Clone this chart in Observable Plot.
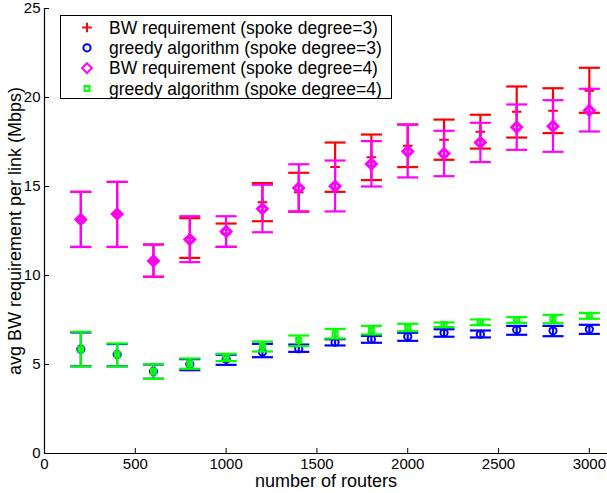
<!DOCTYPE html>
<html>
<head>
<meta charset="utf-8">
<script src="https://cdn.jsdelivr.net/npm/d3@7"></script>
<script src="https://cdn.jsdelivr.net/npm/@observablehq/plot@0.6"></script>
<style>
  html, body { margin: 0; padding: 0; background: #fff; }
  #wrap { position: relative; width: 607px; height: 493px; font-family: "Liberation Sans", Arial, sans-serif; }
  #legend { position: absolute; left: 60px; top: 15px; width: 332px; height: 84px; border: 1px solid #000; background: #fff; box-sizing: border-box; }
</style>
</head>
<body>
<div id="wrap"></div>
<script>
const routers = [200, 400, 600, 800, 1000, 1200, 1400, 1600, 1800, 2000, 2200, 2400, 2600, 2800, 3000];

const bw3Mean = [13.15, 13.45, 10.82, 12.1, 12.34, 14.12, 14.68, 16.09, 16.65, 17.29, 17.62, 18.07, 19.2, 19.25, 20.38];
const bw3Hi   = [14.7, 15.26, 11.74, 13.22, 12.92, 15.19, 15.77, 17.47, 17.92, 18.48, 18.76, 19.03, 20.62, 20.52, 21.67];
const bw3Lo   = [11.6, 11.6, 9.93, 10.99, 11.61, 13.05, 13.6, 14.70, 15.36, 16.09, 16.50, 17.13, 17.75, 18.0, 19.14];

const bw4Mean = [13.15, 13.45, 10.82, 12.02, 12.47, 13.75, 14.91, 15.02, 16.27, 16.97, 16.85, 17.47, 18.33, 18.39, 19.27];
const bw4Hi   = [14.7, 15.26, 11.74, 13.33, 13.33, 15.1, 16.25, 16.46, 17.55, 18.48, 18.13, 18.58, 19.61, 19.85, 20.49];
const bw4Lo   = [11.61, 11.61, 9.93, 10.75, 11.61, 12.43, 13.58, 13.60, 15.0, 15.51, 15.58, 16.37, 17.06, 16.95, 18.09];

const gr3Mean = [5.86, 5.56, 4.61, 5.02, 5.30, 5.70, 5.88, 6.25, 6.42, 6.57, 6.78, 6.70, 6.95, 6.89, 6.98];
const gr3Hi   = [6.8, 6.15, 5.0, 5.30, 5.55, 6.16, 6.12, 6.42, 6.61, 6.78, 6.98, 6.91, 7.17, 7.17, 7.23];
const gr3Lo   = [4.9, 4.9, 4.2, 4.68, 4.98, 5.41, 5.71, 6.07, 6.22, 6.33, 6.56, 6.52, 6.67, 6.59, 6.72];

const gr4Mean = [5.86, 5.56, 4.61, 5.04, 5.41, 6.03, 6.35, 6.72, 6.91, 7.08, 7.23, 7.38, 7.51, 7.55, 7.74];
const gr4Hi   = [6.84, 6.18, 5.02, 5.34, 5.60, 6.29, 6.63, 7.0, 7.17, 7.29, 7.36, 7.53, 7.66, 7.79, 7.90];
const gr4Lo   = [4.89, 4.89, 4.19, 4.76, 5.19, 5.73, 6.03, 6.46, 6.69, 6.87, 7.10, 7.21, 7.34, 7.32, 7.57];

const seriesNames = [
  "BW requirement (spoke degree=3)",
  "greedy algorithm (spoke degree=3)",
  "BW requirement (spoke degree=4)",
  "greedy algorithm (spoke degree=4)"
];
const seriesColors = ["#ff0000", "#0000ff", "#ff00ff", "#00ff00"];
const seriesSymbols = ["plus", "circle", "diamond2", "square2"];
const seriesR = [3.2, 3.6, 4.4, 3.2];
const seriesSW = [2, 2, 3, 2];

const xTicks = [0, 500, 1000, 1500, 2000, 2500, 3000];
const yTicks = [0, 5, 10, 15, 20, 25];

const allSeries = [
  [bw3Mean, bw3Lo, bw3Hi],
  [gr3Mean, gr3Lo, gr3Hi],
  [bw4Mean, bw4Lo, bw4Hi],
  [gr4Mean, gr4Lo, gr4Hi]
];
const capHalf = 58;

const marks = [];
allSeries.forEach(([m, lo, hi], s) => {
  const rows = routers.map((x, i) => ({x, mean: m[i], lo: lo[i], hi: hi[i]}));
  const c = seriesColors[s];
  marks.push(Plot.ruleX(rows, {x: "x", y1: "lo", y2: "hi", stroke: c, strokeWidth: 2.2}));
  marks.push(Plot.link(rows, {x1: d => d.x - capHalf, x2: d => d.x + capHalf, y1: "hi", y2: "hi", stroke: c, strokeWidth: 2.2}));
  marks.push(Plot.link(rows, {x1: d => d.x - capHalf, x2: d => d.x + capHalf, y1: "lo", y2: "lo", stroke: c, strokeWidth: 2.2}));
  marks.push(Plot.dot(rows, {x: "x", y: "mean", symbol: seriesSymbols[s], r: seriesR[s], stroke: c, strokeWidth: seriesSW[s]}));
});

const chart = Plot.plot({
  width: 607,
  height: 493,
  marginLeft: 44,
  marginRight: 0,
  marginTop: 8,
  marginBottom: 40,
  style: {fontFamily: "'Liberation Sans', Arial, sans-serif", fontSize: "18px", background: "#fff", color: "#000"},
  x: {domain: [0, 3100]},
  y: {domain: [0, 25]},
  marks: [
    ...marks,
    Plot.ruleX([0], {stroke: "#000", strokeWidth: 1.2}),
    Plot.ruleY([0], {stroke: "#000", strokeWidth: 1.2}),
    Plot.axisX(xTicks, {tickSize: -5, tickFormat: () => "", label: null, stroke: "#000"}),
    Plot.axisY(yTicks, {tickSize: -5, tickFormat: () => "", label: null, stroke: "#000"}),
    Plot.axisX(xTicks, {tickSize: 0, tickPadding: 5, fontSize: 15, tickFormat: d3.format("d"), label: null, fill: "#000"}),
    Plot.axisY(yTicks, {tickSize: 0, tickPadding: 4, fontSize: 15, tickFormat: d3.format("d"), label: null, fill: "#000"}),
    Plot.axisX([], {label: "number of routers", labelAnchor: "center", labelArrow: "none", labelOffset: 33, fontSize: 18, fill: "#000", tickSize: 0}),
    Plot.axisY([], {label: "avg BW requirement per link (Mbps)", labelAnchor: "center", labelArrow: "none", labelOffset: 36, fontSize: 18, fill: "#000", tickSize: 0})
  ]
});

const wrap = document.getElementById("wrap");
wrap.appendChild(chart);

// legend
const legend = document.createElement("div");
legend.id = "legend";
const ns = "http://www.w3.org/2000/svg";
const lsvg = document.createElementNS(ns, "svg");
lsvg.setAttribute("width", 330);
lsvg.setAttribute("height", 82);
lsvg.style.position = "absolute";
lsvg.style.left = "0px";
lsvg.style.top = "0px";
const symMap = {plus: d3.symbolPlus, circle: d3.symbolCircle, diamond2: d3.symbolDiamond2, square2: d3.symbolSquare2};
seriesNames.forEach((name, i) => {
  const cy = 11.5 + i * 20.3;
  const p = document.createElementNS(ns, "path");
  const rr = seriesR[i];
  p.setAttribute("d", d3.symbol(symMap[seriesSymbols[i]], Math.PI * rr * rr)());
  p.setAttribute("transform", `translate(26,${cy})`);
  p.setAttribute("fill", "none");
  p.setAttribute("stroke", seriesColors[i]);
  p.setAttribute("stroke-width", 2);
  lsvg.appendChild(p);
  const t = document.createElementNS(ns, "text");
  t.setAttribute("x", 48);
  t.setAttribute("y", cy);
  t.setAttribute("dy", "0.35em");
  t.setAttribute("font-size", 17.5);
  t.setAttribute("font-family", "'Liberation Sans', Arial, sans-serif");
  t.setAttribute("fill", "#000");
  t.textContent = name;
  lsvg.appendChild(t);
});
legend.appendChild(lsvg);
wrap.appendChild(legend);
</script>
</body>
</html>
